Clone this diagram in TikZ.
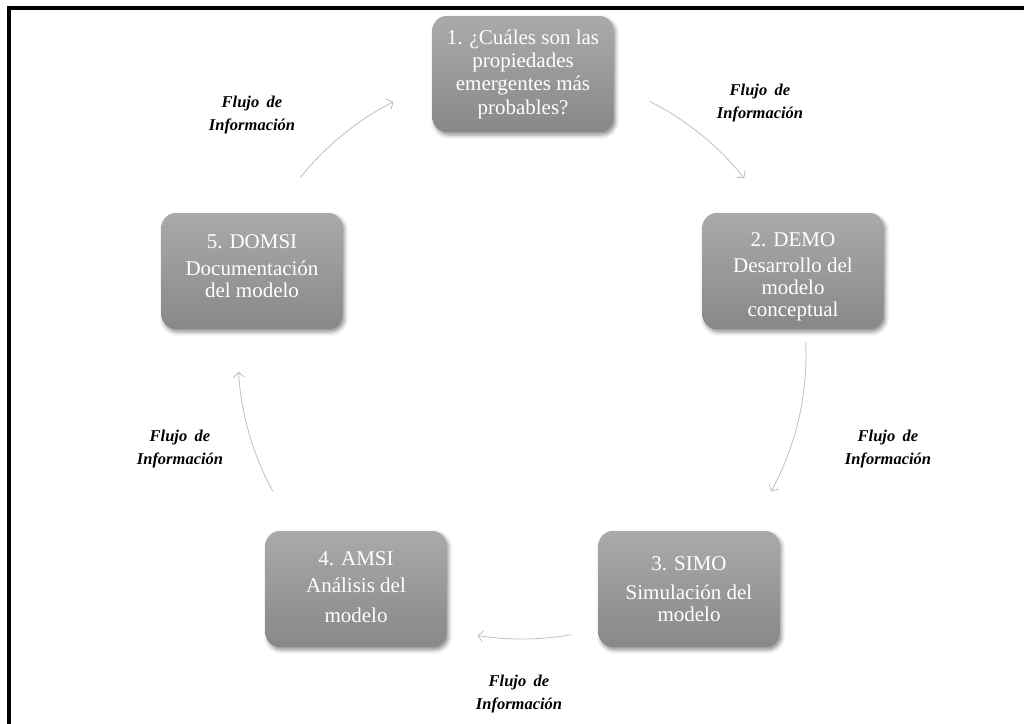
\documentclass[tikz,border=0pt]{standalone}
\usepackage{fontspec}
\setmainfont{Liberation Serif}
\usetikzlibrary{arrows.meta,calc,shadows.blur}

\tikzset{
  stage/.style={
    draw=none, rounded corners=14pt,
    minimum width=181pt, minimum height=116pt,
    top color={rgb,255:red,170;green,170;blue,170},
    bottom color={rgb,255:red,136;green,136;blue,136},
    text=white, align=center, inner sep=2pt,
    font=\fontsize{21}{22}\selectfont,
    blur shadow={shadow xshift=2pt, shadow yshift=-3pt,
                 shadow blur radius=4pt, shadow opacity=45}
  },
  flowlabel/.style={
    align=center, text=black,
    font=\fontsize{16.5}{23.5}\selectfont\bfseries\itshape
  },
  flow/.style={
    draw={rgb,255:red,190;green,190;blue,190}, line width=0.8pt,
    -{Straight Barb[length=5pt,width=11pt]}
  }
}
% wider gap between the two words of an arc label
\newcommand{\flujo}{Flujo\hspace{0.45em}de\\Información}
% struts that move a block of text down (tall first line) or up (deep last line)
\newcommand{\tallstrut}[1]{\rule{0pt}{#1}}
\newcommand{\deepstrut}[1]{\rule[-#1]{0pt}{#1}}

\begin{document}
\begin{tikzpicture}[x=1pt,y=1pt]
  \useasboundingbox (0,0) rectangle (1024,-723);

  % page frame: only its top and left edges fall inside the picture
  \draw[line width=4pt] (9,-740) -- (9,-8) -- (1040,-8);

  % the five stages of the cycle
  \node[stage, font=\fontsize{21}{23.3}\selectfont] (s1) at (523,-74)
    {1. ¿Cuáles son las\\propiedades\\emergentes más\\probables?};
  \node[stage] (s2) at (793,-271)
    {\tallstrut{26pt}2. DEMO\\[4pt]Desarrollo del\\modelo\\conceptual};
  \node[stage] (s3) at (689,-589)
    {3. SIMO\\[7pt]Simulación del\\modelo};
  \node[stage] (s4) at (356,-589)
    {4. AMSI\\[5pt]Análisis del\\[8pt]modelo\deepstrut{4pt}};
  \node[stage] (s5) at (252,-271)
    {5. DOMSI\\[5pt]Documentación\\del modelo\deepstrut{10pt}};

  % circle on which the connecting arcs lie
  \coordinate (c) at (522,-355);
  \def\R{284}
  \coordinate (f12) at ($(c)+(63.3:\R)$);
  \coordinate (f23) at ($(c)+(2.6:\R)$);
  \coordinate (f34) at ($(c)+(-80:\R)$);
  \coordinate (f45) at ($(c)+(-151.3:\R)$);
  \coordinate (f51) at ($(c)+(141.2:\R)$);

  \draw[flow] (f12) arc[start angle=63.3, end angle=38.5, radius=\R];
  \draw[flow] (f23) arc[start angle=2.6, end angle=-28.7, radius=\R];
  \draw[flow] (f34) arc[start angle=-80, end angle=-99, radius=\R];
  \draw[flow] (f45) arc[start angle=-151.3, end angle=-176.6, radius=\R];
  \draw[flow] (f51) arc[start angle=141.2, end angle=116.9, radius=\R];

  % labels of the arcs
  \node[flowlabel] (l51) at (252,-115) {\flujo};
  \node[flowlabel] (l12) at (760,-103) {\flujo};
  \node[flowlabel] (l23) at (888,-449) {\flujo};
  \node[flowlabel] (l34) at (519,-694) {\flujo};
  \node[flowlabel] (l45) at (180,-449) {\flujo};
\end{tikzpicture}
\end{document}
